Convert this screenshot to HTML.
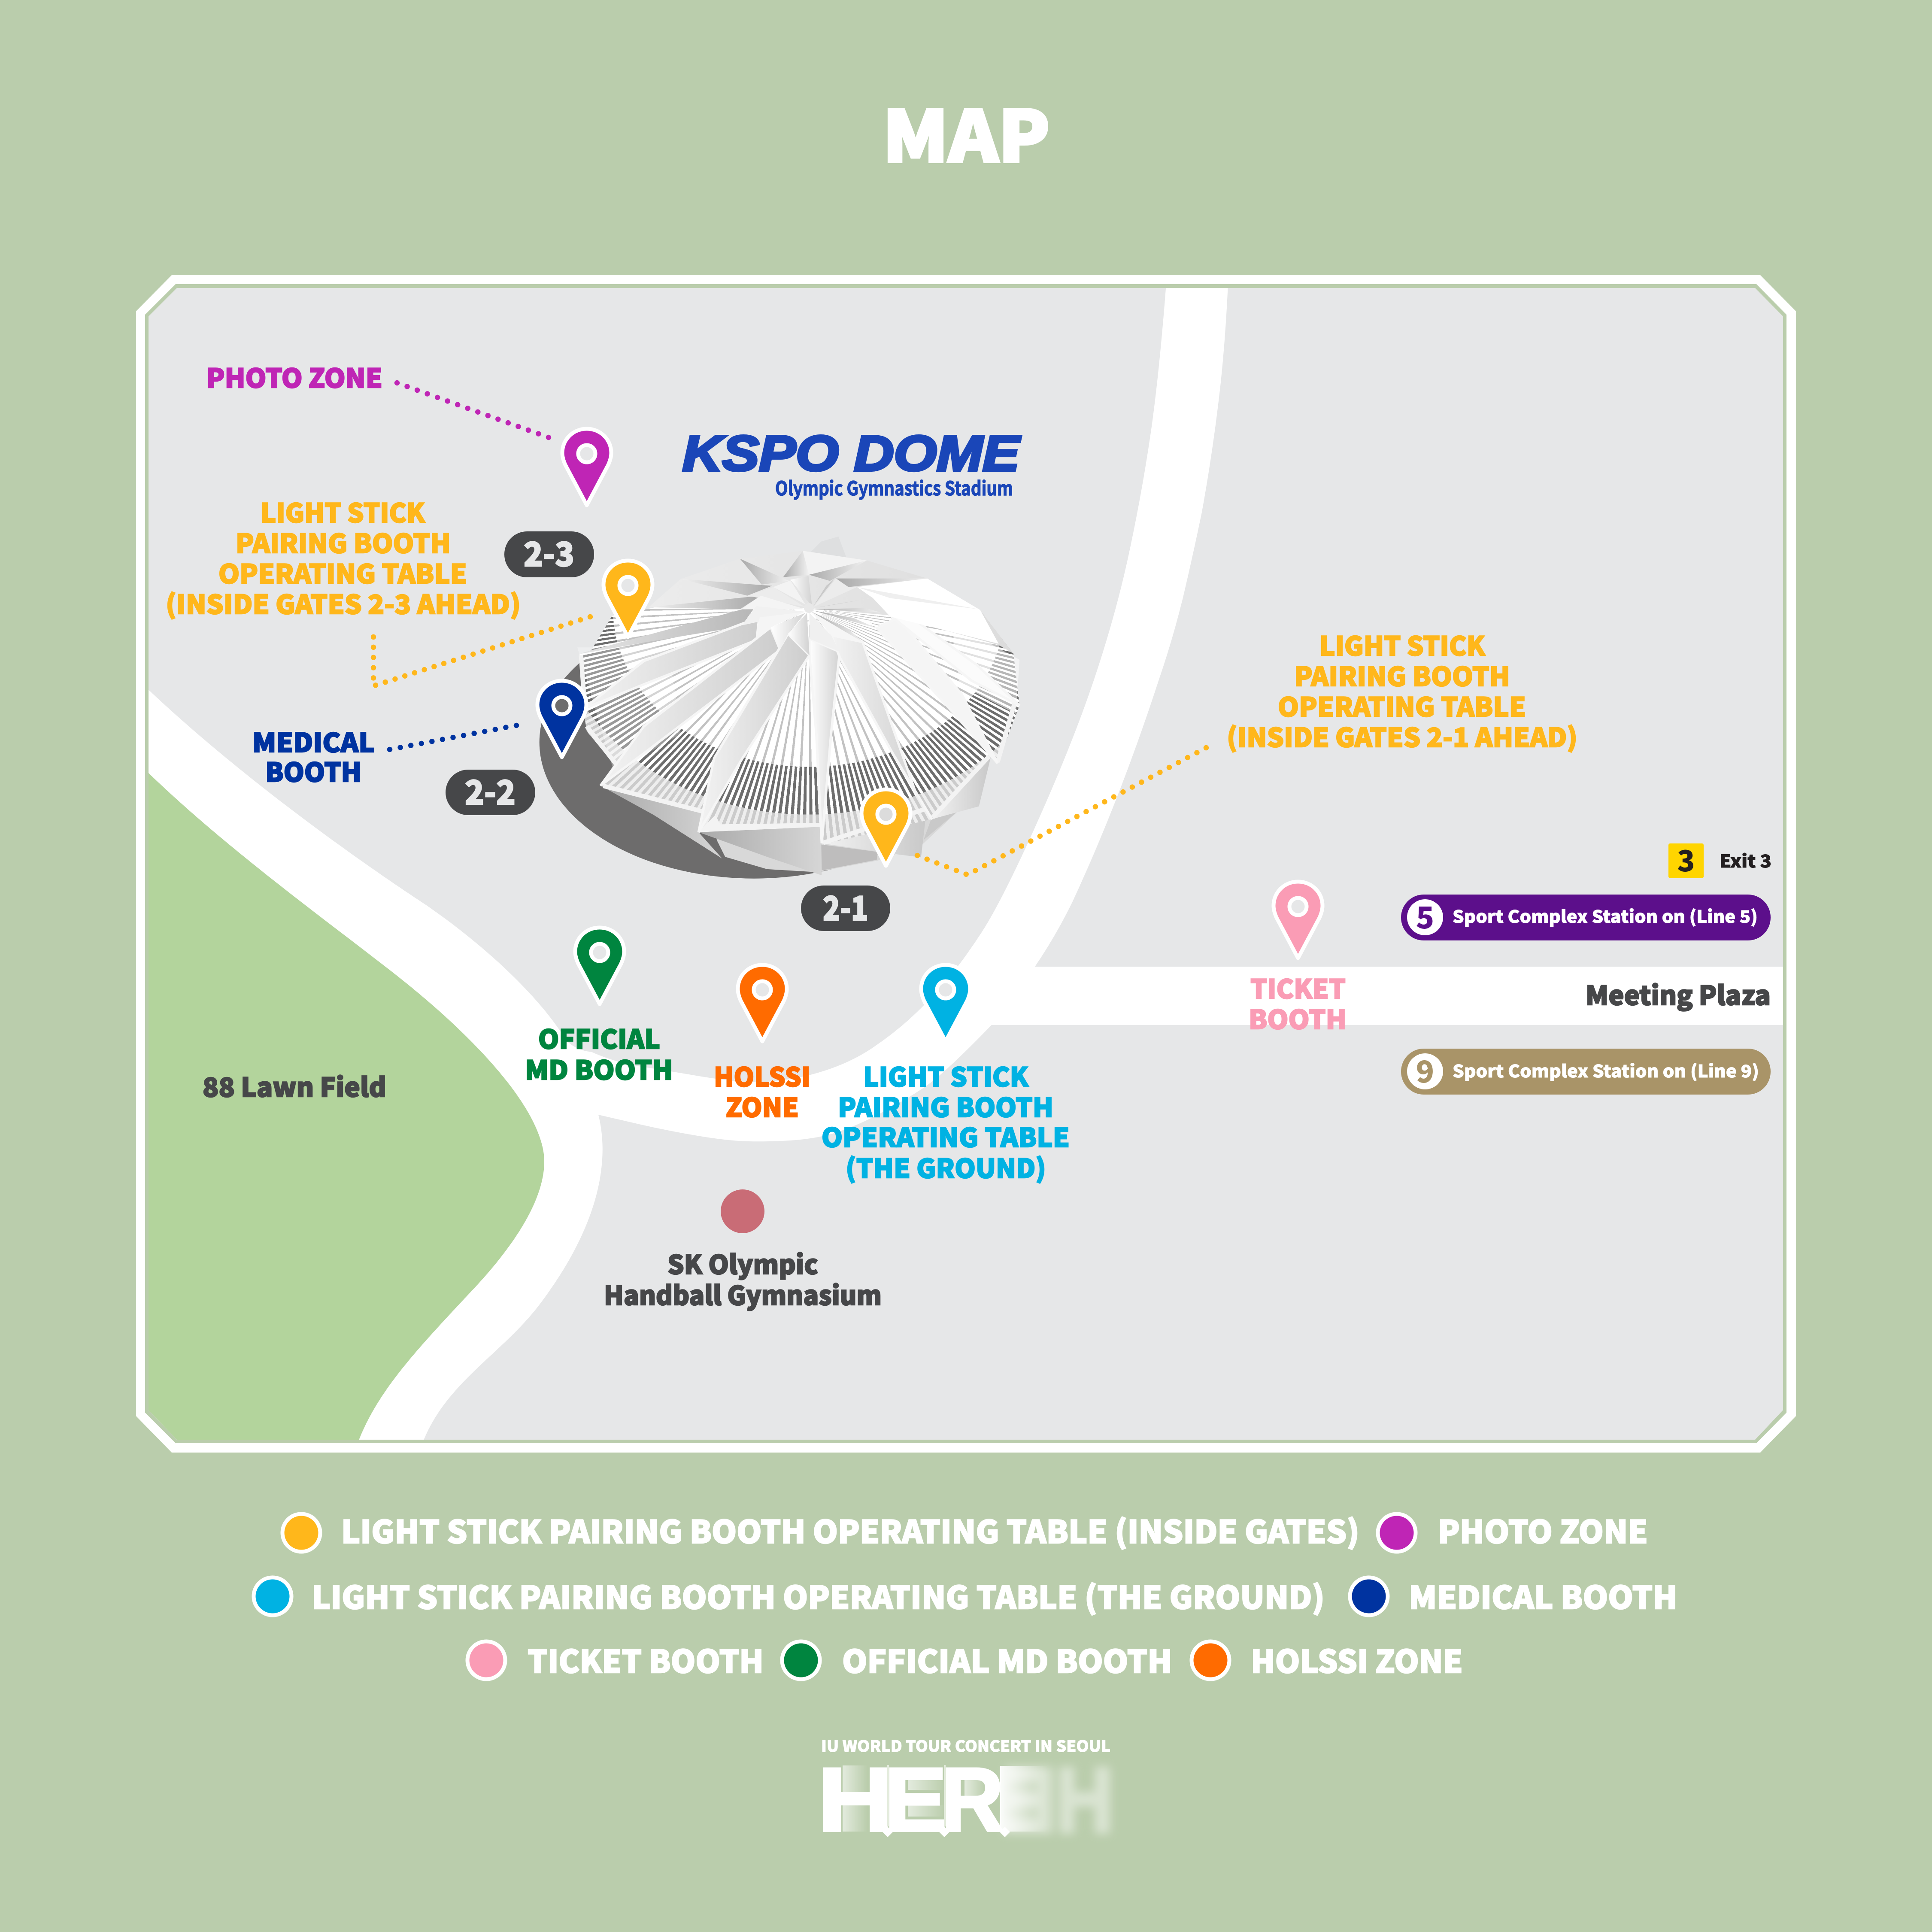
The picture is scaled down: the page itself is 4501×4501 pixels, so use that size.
<!DOCTYPE html>
<html><head><meta charset="utf-8"><title>MAP</title>
<style>
html,body{margin:0;padding:0;background:#bacdac}
body{position:relative;width:4501px;height:4501px;overflow:hidden}
svg{display:block;position:absolute;left:0;top:0}
text{font-family:"Noto Sans CJK KR","Liberation Sans",sans-serif;font-weight:900}
.dome{position:absolute;left:1500px;top:1250px;width:1800px;height:1400px;transform-origin:0 0;transform:scale(.574);
clip-path:polygon(-261px 477px,-246px 697px,-232px 790px,-106px 943px,-176px 1011px,250px 1125px,222px 1200px,718px 1178px,725px 1250px,1165px 1148px,1405px 895px,1435px 920px,1525px 685px,1500px 475px,1365px 298px,670px 150px,19px 293px,-129px 322px,-214px 462px)}
.dome .w{position:absolute;left:-400px;top:0;width:2100px;height:1400px;background:#fff}
.dome .r{position:absolute;left:-630px;top:-1010px;width:2600px;height:2600px;transform:scaleY(.81);transform-origin:center}
.r1{background:repeating-conic-gradient(#c2c2c2 0 .75deg,transparent .75deg 2.8deg);-webkit-mask-image:radial-gradient(circle at center,transparent 60px,#000 60px,#000 796px,transparent 796px);mask-image:radial-gradient(circle at center,transparent 60px,#000 60px,#000 796px,transparent 796px)}
.r2{background:repeating-conic-gradient(#6d6d6d 0 .72deg,transparent .72deg 1.4deg);-webkit-mask-image:radial-gradient(circle at center,transparent 796px,#000 796px,#000 1035px,transparent 1035px);mask-image:radial-gradient(circle at center,transparent 796px,#000 796px,#000 1035px,transparent 1035px)}
.r3{background:repeating-conic-gradient(#cbcbcb 0 .7deg,#eee .7deg 1.4deg);-webkit-mask-image:radial-gradient(circle at center,transparent 1035px,#000 1035px,#000 1300px,transparent 1300px);mask-image:radial-gradient(circle at center,transparent 1035px,#000 1035px,#000 1300px,transparent 1300px)}
</style></head>
<body>
<svg xmlns="http://www.w3.org/2000/svg" width="4501" height="4501" viewBox="0 0 4501 4501">
<defs>
<clipPath id="mapclip"><polygon points="412,671 4089,671 4154,737 4154,3285 4089,3354 412,3354 346,3285 346,737"/></clipPath>
<linearGradient id="sD" x1="0" y1="0" x2="1" y2="0"><stop offset="0" stop-color="#a9a9a9"/><stop offset="1" stop-color="#d6d6d6"/></linearGradient>
<linearGradient id="sE" x1="0" y1="0" x2="1" y2="0"><stop offset="0" stop-color="#f3f3f3"/><stop offset="1" stop-color="#c8c8c8"/></linearGradient>
</defs>
<rect width="4501" height="4501" fill="#bacdac"/>
<text x="2056" y="377" font-size="165" fill="#fff" textLength="390" lengthAdjust="spacingAndGlyphs" stroke="#fff" stroke-width="6">MAP</text>
<polygon points="400,641 4101,641 4184,725 4184,3299 4101,3384 400,3384 317,3299 317,725" fill="#fff"/>
<polygon points="409,662 4092,662 4162,733 4162,3291 4092,3362 409,3362 338,3291 338,733" fill="#bacdac"/>
<polygon points="412,671 4089,671 4154,737 4154,3285 4089,3354 412,3354 346,3285 346,737" fill="#e6e7e8"/>
<g clip-path="url(#mapclip)">
<path fill="#fff" d="M340 1601 L346 1607 C540 1790 790 1975 989 2106 C1109 2188 1250 2310 1320 2425 Q1345 2448 1377.5 2450.5 Q1435 2476 1497 2485.5 Q1559 2495 1616.5 2505 Q1674 2515 1722 2519.5 Q1770 2524 1827 2516 Q1884 2508 1937 2489 Q1990 2470 2033 2441 Q2076 2412 2114 2378.5 Q2152 2345 2195 2296 Q2238 2247 2286 2173.5 Q2334 2100 2417 1914.5 Q2500 1729 2550 1579.5 Q2600 1430 2630 1290 Q2660 1150 2680 1014.5 Q2700 879 2717 660 L2861 660 Q2855 790 2843 900 Q2826 1050 2800 1193 Q2780 1290 2757 1388 Q2732 1490 2700 1583 Q2610 1860 2499 2100 Q2460 2180 2411 2252 L4160 2252 V2388 H2310 Q2200 2502 2152 2534 Q2104 2566 2056 2591 Q2009 2617 1961 2634 Q1913 2652 1841 2657 Q1770 2661 1722 2658 Q1674 2655 1602 2642 Q1530 2629 1463 2613 L1394 2597 C1420 2700 1400 2850 1257 3039 C1170 3154 1040 3220 985 3360 L340 3360 Z"/>
<path fill="#b3d49c" d="M340 1795 C520 1970 740 2129 912 2263 C1110 2417 1268 2590 1268 2706 C1268 2800 1190 2910 1104 3002 C970 3145 880 3240 834 3360 L340 3360 Z"/>
</g>
<g transform="translate(1500 1250) scale(.574)">
<ellipse cx="447" cy="835" rx="871" ry="553" fill="#6d6c6c"/>
<polygon points="680,60 720,20 790,0 822,85 670,70" fill="#dedfe0"/>
<polygon points="295,1230 330,1300 500,1350 700,1362 950,1315 1130,1250 1280,1110 1100,1000 600,1100" fill="#d8d8d8"/>
<polygon points="-176,1011 250,1125 222,1200 318,1307 40,1130" fill="url(#sD)"/>
<polygon points="222,1200 718,1178 722,1375 500,1300" fill="url(#sD)"/>
<polygon points="720,1250 950,1280 945,1312 722,1355" fill="#bebdbd"/>
<polygon points="720,1245 880,1195 1148,1105 1125,1302 1030,1290" fill="url(#sE)"/>
<polygon points="1135,1232 1165,1150 1280,1110" fill="#c9c9c9"/>
<polygon points="1165,1148 1408,895 1360,1095" fill="url(#sE)"/>
</g>
</svg>

<div class="dome"><div class="w"></div><div class="r r1"></div><div class="r r2"></div><div class="r r3"></div></div>

<svg xmlns="http://www.w3.org/2000/svg" width="4501" height="4501" viewBox="0 0 4501 4501">
<defs>
<linearGradient id="gA" x1="0" y1="0" x2="1" y2="0"><stop offset="0" stop-color="#f0f0f0"/><stop offset="1" stop-color="#a8a8a8"/></linearGradient>
<linearGradient id="gB" x1="0" y1="0" x2="1" y2="0"><stop offset="0" stop-color="#a8a8a8"/><stop offset="1" stop-color="#f2f2f2"/></linearGradient>
<linearGradient id="gC" x1="0" y1="0" x2="1" y2="0"><stop offset="0" stop-color="#f3f3f3"/><stop offset="1" stop-color="#cdcdcd"/></linearGradient>
<linearGradient id="gE" x1="0" y1="0" x2="1" y2="0"><stop offset="0" stop-color="#ffffff"/><stop offset="1" stop-color="#d2d2d2"/></linearGradient>
<linearGradient id="gF" x1="0" y1="0" x2="1" y2="0"><stop offset="0" stop-color="#e6e6e6"/><stop offset="1" stop-color="#b6b6b6"/></linearGradient>
<linearGradient id="gR" x1="0" y1="0" x2="1" y2="0"><stop offset="0" stop-color="#ececec"/><stop offset="1" stop-color="#dcdcdc"/></linearGradient>
<linearGradient id="fadeW" x1="0" y1="0" x2="1" y2="0"><stop offset="0" stop-color="#fff" stop-opacity=".6"/><stop offset="1" stop-color="#fff" stop-opacity="0"/></linearGradient>
<linearGradient id="fadeS" x1="0" y1="0" x2="1" y2="0"><stop offset="0" stop-color="#fff" stop-opacity=".95"/><stop offset="1" stop-color="#fff" stop-opacity="0"/></linearGradient>
<filter id="blur" x="-20%" y="-20%" width="140%" height="140%"><feGaussianBlur stdDeviation="11"/></filter>
</defs>

<g transform="translate(1500 1250) scale(.574)">
<polygon points="1250,350 1525,500 1510,720 1280,600" fill="#fff" opacity=".5"/>
<polygon points="-270,450 100,450 150,800 -120,960" fill="#fff" opacity=".3"/>
<!-- outer frame strips -->
<g fill="none" stroke="#f3f3f3" stroke-width="18">
<polyline points="-255,482 -240,690 -20,590"/>
<polyline points="-232,770 -104,935"/>
<polyline points="-165,1012 248,1118"/>
<polyline points="728,1243 1145,1105"/>
<polyline points="1172,1140 1400,893"/>
<polyline points="1436,915 1505,675"/>
</g>
<polygon points="222,1200 718,1178 716,1162 310,1168 290,1130" fill="#f3f3f3"/>
<!-- beams -->
<g stroke="#f6f6f6" stroke-width="10" stroke-linejoin="miter">
<polygon points="-214,462 455,280 395,365 0,430 -261,477" fill="url(#gF)" stroke="none"/>
<polygon points="468,328 458,420 0,600 -246,700 0,505" fill="url(#gC)"/>
<polygon points="515,368 553,460 0,880 -176,1011 0,770" fill="url(#gC)"/>
<polygon points="585,395 672,482 400,900 222,1200 285,900" fill="url(#gC)"/>
<polygon points="672,415 795,468 760,800 722,1245 700,800 672,480" fill="url(#gE)"/>
<polygon points="760,400 888,428 1100,1030 1170,1148 1010,880 795,490" fill="url(#gC)"/>
<polygon points="945,370 1030,330 1290,640 1436,920 1260,720" fill="#f5f5f5"/>
<polygon points="1000,320 1060,310 1350,520 1525,685 1330,585" fill="#fbfbfb"/>
</g>
<!-- roof -->
<polygon points="19,287 150,172 390,90 645,58 905,97 1150,170 1365,298 1500,475 1440,440 1000,320 670,290 395,295" fill="url(#gR)"/>
<polygon points="865,205 1150,170 1365,298 1440,435 1000,325 930,250" fill="#fff"/>
<polygon points="865,205 1360,295 1000,250" fill="#efefef"/>
<polygon points="390,90 590,180 478,195" fill="url(#gB)"/>
<polygon points="150,172 520,200 420,240" fill="url(#gA)"/>
<polygon points="19,287 475,240 390,295" fill="url(#gA)"/>
<polygon points="565,165 645,58 670,155" fill="url(#gB)"/>
<polygon points="670,155 905,97 755,180" fill="url(#gB)"/>
<polygon points="780,170 1150,170 830,205" fill="url(#gB)"/>
<polygon points="645,58 905,97 670,155" fill="#f3f3f3"/>
<!-- hub wedges -->
<polygon points="595,175 668,160 683,285" fill="url(#gE)"/>
<polygon points="525,205 595,178 655,275" fill="#f3f3f3"/>
<polygon points="420,240 525,205 652,285" fill="#ececec"/>
<polygon points="475,240 395,295 655,295" fill="#f4f4f4"/>
<polygon points="455,282 400,360 655,305" fill="#f1f1f1"/>
<polygon points="470,328 655,305 515,368 458,420" fill="#f5f5f5"/>
<polygon points="515,368 655,310 585,395 553,460" fill="url(#gE)"/>
<polygon points="585,395 662,310 672,482" fill="url(#gE)"/>
<polygon points="672,310 672,415 795,468 760,400" fill="#f0f0f0"/>
<polygon points="680,305 760,400 888,428" fill="#f6f6f6"/>
<polygon points="680,305 888,428 830,375" fill="url(#gB)"/>
<polygon points="685,300 960,370 890,335 " fill="#fff"/>
<polygon points="685,300 945,372 850,330" fill="url(#gB)"/>
<polygon points="688,295 900,290 960,308" fill="url(#gB)"/>
<polygon points="690,290 930,248 840,265" fill="url(#gB)"/>
<polygon points="690,285 865,205 830,205 780,170" fill="#ececec"/>
<polygon points="688,282 775,170 740,200" fill="#c9c9c9"/>
<circle cx="670" cy="290" r="20" fill="#e8e8e8"/>
</g>

<!-- dotted connectors -->
<g fill="none" stroke-linecap="round" stroke-width="12.5">
<path d="M925 892 L1278 1019" stroke="#bf25b5" pathLength="15" stroke-dasharray="0 .9999"/>
<path d="M870 1484 L870 1598 L1375 1437" stroke="#ffb71b" pathLength="27" stroke-dasharray="0 .9999"/>
<path d="M908 1746 L1203 1690" stroke="#0033a0" pathLength="12" stroke-dasharray="0 .9999"/>
<path d="M2137 1993 L2254 2038 L2810 1742" stroke="#ffb71b" pathLength="31" stroke-dasharray="0 .9999"/>
</g>

<!-- badges -->
<rect x="1175" y="1238" width="209" height="107" rx="53" fill="#464749"/>
<rect x="1038" y="1793" width="209" height="106" rx="53" fill="#464749"/>
<rect x="1866" y="2063" width="208" height="106" rx="53" fill="#464749"/>
<g fill="#e6e7e8" font-size="78" stroke="#e6e7e8" stroke-width="2.5">
<text x="1220" y="1319" textLength="118" lengthAdjust="spacingAndGlyphs">2-3</text>
<text x="1083" y="1874" textLength="118" lengthAdjust="spacingAndGlyphs">2-2</text>
<text x="1917" y="2144" textLength="106" lengthAdjust="spacingAndGlyphs">2-1</text>
</g>

<!-- pins -->
<g stroke="#fff" stroke-width="9" stroke-linejoin="round">
<path transform="translate(1367 1057)" fill="#bf25b5" d="M0 120 L-50 26 C-54 17 -57 8 -57 -2 C-57 -33 -32 -58 0 -58 C32 -58 57 -33 57 -2 C57 8 54 17 50 26 Z"/>
<path transform="translate(1463 1364)" fill="#ffb71b" d="M0 120 L-50 26 C-54 17 -57 8 -57 -2 C-57 -33 -32 -58 0 -58 C32 -58 57 -33 57 -2 C57 8 54 17 50 26 Z"/>
<path transform="translate(1309 1644)" fill="#0033a0" d="M0 120 L-50 26 C-54 17 -57 8 -57 -2 C-57 -33 -32 -58 0 -58 C32 -58 57 -33 57 -2 C57 8 54 17 50 26 Z"/>
<path transform="translate(2064 1897)" fill="#ffb71b" d="M0 120 L-50 26 C-54 17 -57 8 -57 -2 C-57 -33 -32 -58 0 -58 C32 -58 57 -33 57 -2 C57 8 54 17 50 26 Z"/>
<path transform="translate(1397 2219)" fill="#00853f" d="M0 120 L-50 26 C-54 17 -57 8 -57 -2 C-57 -33 -32 -58 0 -58 C32 -58 57 -33 57 -2 C57 8 54 17 50 26 Z"/>
<path transform="translate(1776 2306)" fill="#ff6b00" d="M0 120 L-50 26 C-54 17 -57 8 -57 -2 C-57 -33 -32 -58 0 -58 C32 -58 57 -33 57 -2 C57 8 54 17 50 26 Z"/>
<path transform="translate(2203 2306)" fill="#00b2e3" d="M0 120 L-50 26 C-54 17 -57 8 -57 -2 C-57 -33 -32 -58 0 -58 C32 -58 57 -33 57 -2 C57 8 54 17 50 26 Z"/>
<path transform="translate(3024 2112)" fill="#fa9cb5" d="M0 120 L-50 26 C-54 17 -57 8 -57 -2 C-57 -33 -32 -58 0 -58 C32 -58 57 -33 57 -2 C57 8 54 17 50 26 Z"/>
</g>
<g stroke="#fff" stroke-width="9" fill="#e6e7e8">
<circle cx="1367" cy="1057" r="20"/>
<circle cx="1463" cy="1364" r="20"/>
<circle cx="1309" cy="1644" r="20" fill="#6d6c6c"/>
<circle cx="2064" cy="1897" r="20" fill="#dcdcdc"/>
<circle cx="1397" cy="2219" r="20"/>
<circle cx="1776" cy="2306" r="20"/>
<circle cx="2203" cy="2306" r="20"/>
<circle cx="3024" cy="2112" r="20"/>
</g>

<!-- KSPO -->
<text x="1590" y="1096" font-size="116" fill="#1a46b8" textLength="785" lengthAdjust="spacingAndGlyphs" stroke="#1a46b8" stroke-width="6" style="font-family:'Liberation Sans',sans-serif;font-weight:700;font-style:italic">KSPO DOME</text>
<text x="1806" y="1154" font-size="45" fill="#1a46b8" textLength="554" lengthAdjust="spacingAndGlyphs" stroke="#1a46b8" stroke-width="1.5" style="font-weight:700">Olympic Gymnastics Stadium</text>

<!-- labels -->
<g font-size="61" stroke-width="2.5">
<text x="481" y="903" fill="#bf25b5" stroke="#bf25b5" textLength="410" lengthAdjust="spacingAndGlyphs">PHOTO ZONE</text>
<g fill="#ffb71b" stroke="#ffb71b">
<text x="607" y="1217" textLength="383" lengthAdjust="spacingAndGlyphs">LIGHT STICK</text>
<text x="549" y="1288" textLength="501" lengthAdjust="spacingAndGlyphs">PAIRING BOOTH</text>
<text x="509" y="1359" textLength="579" lengthAdjust="spacingAndGlyphs">OPERATING TABLE</text>
<text x="386" y="1430" textLength="827" lengthAdjust="spacingAndGlyphs">(INSIDE GATES 2-3 AHEAD)</text>
<text x="3074" y="1527" textLength="386" lengthAdjust="spacingAndGlyphs">LIGHT STICK</text>
<text x="3015" y="1598" textLength="503" lengthAdjust="spacingAndGlyphs">PAIRING BOOTH</text>
<text x="2977" y="1669" textLength="578" lengthAdjust="spacingAndGlyphs">OPERATING TABLE</text>
<text x="2858" y="1740" textLength="817" lengthAdjust="spacingAndGlyphs">(INSIDE GATES 2-1 AHEAD)</text>
</g>
<g fill="#0033a0" stroke="#0033a0">
<text x="588" y="1752" textLength="285" lengthAdjust="spacingAndGlyphs">MEDICAL</text>
<text x="618" y="1821" textLength="224" lengthAdjust="spacingAndGlyphs">BOOTH</text>
</g>
<text x="472" y="2555" fill="#464749" stroke="#464749" textLength="428" lengthAdjust="spacingAndGlyphs">88 Lawn Field</text>
<g fill="#00853f" stroke="#00853f">
<text x="1254" y="2443" textLength="284" lengthAdjust="spacingAndGlyphs">OFFICIAL</text>
<text x="1223" y="2515" textLength="345" lengthAdjust="spacingAndGlyphs">MD BOOTH</text>
</g>
<g fill="#ff6b00" stroke="#ff6b00">
<text x="1663" y="2531" textLength="225" lengthAdjust="spacingAndGlyphs">HOLSSI</text>
<text x="1691" y="2602" textLength="170" lengthAdjust="spacingAndGlyphs">ZONE</text>
</g>
<g fill="#00b2e3" stroke="#00b2e3">
<text x="2011" y="2531" textLength="385" lengthAdjust="spacingAndGlyphs">LIGHT STICK</text>
<text x="1952" y="2602" textLength="502" lengthAdjust="spacingAndGlyphs">PAIRING BOOTH</text>
<text x="1914" y="2672" textLength="578" lengthAdjust="spacingAndGlyphs">OPERATING TABLE</text>
<text x="1970" y="2744" textLength="467" lengthAdjust="spacingAndGlyphs">(THE GROUND)</text>
</g>
<g fill="#fa9cb5" stroke="#fa9cb5">
<text x="2913" y="2326" textLength="222" lengthAdjust="spacingAndGlyphs">TICKET</text>
<text x="2909" y="2397" textLength="228" lengthAdjust="spacingAndGlyphs">BOOTH</text>
</g>
<g fill="#464749" stroke="#464749">
<text x="1555" y="2968" textLength="351" lengthAdjust="spacingAndGlyphs">SK Olympic</text>
<text x="1407" y="3040" textLength="647" lengthAdjust="spacingAndGlyphs">Handball Gymnasium</text>
<text x="3694" y="2341" textLength="431" lengthAdjust="spacingAndGlyphs">Meeting Plaza</text>
</g>
</g>
<circle cx="1730" cy="2822" r="51" fill="#c96c76"/>

<!-- subway -->
<rect x="3887" y="1965" width="82" height="81" rx="4" fill="#ffd500"/>
<text x="3928" y="2030" font-size="68" text-anchor="middle" fill="#231f20">3</text>
<text x="4006" y="2021" font-size="41" fill="#231f20" stroke="#231f20" stroke-width="1" textLength="121" lengthAdjust="spacingAndGlyphs">Exit 3</text>
<rect x="3264" y="2084" width="861" height="107" rx="53" fill="#5c0f8b"/>
<circle cx="3320" cy="2137" r="42" fill="#fff"/>
<text x="3320" y="2163" font-size="70" text-anchor="middle" fill="#5c0f8b">5</text>
<text x="3384" y="2150" font-size="40" fill="#fff" stroke="#fff" stroke-width="1" textLength="711" lengthAdjust="spacingAndGlyphs">Sport Complex Station on (Line 5)</text>
<rect x="3264" y="2443" width="861" height="107" rx="53" fill="#a99468"/>
<circle cx="3320" cy="2496" r="42" fill="#fff"/>
<text x="3320" y="2522" font-size="70" text-anchor="middle" fill="#a99468">9</text>
<text x="3384" y="2510" font-size="40" fill="#fff" stroke="#fff" stroke-width="1" textLength="714" lengthAdjust="spacingAndGlyphs">Sport Complex Station on (Line 9)</text>

<!-- legend -->
<g stroke="#fff" stroke-width="9">
<circle cx="702" cy="3571" r="44" fill="#ffb71b"/>
<circle cx="3254" cy="3571" r="44" fill="#bf25b5"/>
<circle cx="635" cy="3719" r="44" fill="#00b2e3"/>
<circle cx="3189" cy="3719" r="44" fill="#0033a0"/>
<circle cx="1133" cy="3868" r="44" fill="#fa9cb5"/>
<circle cx="1866" cy="3868" r="44" fill="#00853f"/>
<circle cx="2820" cy="3868" r="44" fill="#ff6b00"/>
</g>
<g fill="#fff" font-size="73" stroke="#fff" stroke-width="2.5">
<text x="795" y="3595" textLength="2372" lengthAdjust="spacingAndGlyphs">LIGHT STICK PAIRING BOOTH OPERATING TABLE (INSIDE GATES)</text>
<text x="3350" y="3595" textLength="489" lengthAdjust="spacingAndGlyphs">PHOTO ZONE</text>
<text x="726" y="3748" textLength="2360" lengthAdjust="spacingAndGlyphs">LIGHT STICK PAIRING BOOTH OPERATING TABLE (THE GROUND)</text>
<text x="3282" y="3748" textLength="626" lengthAdjust="spacingAndGlyphs">MEDICAL BOOTH</text>
<text x="1229" y="3897" textLength="550" lengthAdjust="spacingAndGlyphs">TICKET BOOTH</text>
<text x="1962" y="3897" textLength="769" lengthAdjust="spacingAndGlyphs">OFFICIAL MD BOOTH</text>
<text x="2914" y="3897" textLength="494" lengthAdjust="spacingAndGlyphs">HOLSSI ZONE</text>
</g>

<!-- logo -->
<text x="1913" y="4081" font-size="36" fill="#fff" stroke="#fff" stroke-width="1" textLength="674" lengthAdjust="spacingAndGlyphs">IU WORLD TOUR CONCERT IN SEOUL</text>
<g filter="url(#blur)" opacity=".45">
<text x="2336" y="4267" font-size="212" fill="#fff" textLength="258" lengthAdjust="spacingAndGlyphs" stroke="#fff" stroke-width="10" style="font-family:'Liberation Sans',sans-serif;font-weight:700">ƎH</text>
</g>
<rect x="2330" y="4114" width="110" height="153" fill="url(#fadeS)"/>
<rect x="1963" y="4113" width="58" height="154" fill="url(#fadeW)"/>
<rect x="2115" y="4145" width="88" height="25" fill="url(#fadeW)"/>
<rect x="2115" y="4205" width="88" height="27" fill="url(#fadeW)"/>
<rect x="2247" y="4147" width="50" height="45" fill="url(#fadeW)"/>
<g font-size="210" fill="#fff" stroke="#fff" stroke-width="6">
<text x="1905" y="4265" textLength="176" lengthAdjust="spacingAndGlyphs" style="font-family:'Liberation Sans',sans-serif;font-weight:700">H</text>
<text x="2060" y="4265" textLength="146" lengthAdjust="spacingAndGlyphs" style="font-family:'Liberation Sans',sans-serif;font-weight:700">E</text>
<text x="2193" y="4265" textLength="145" lengthAdjust="spacingAndGlyphs" style="font-family:'Liberation Sans',sans-serif;font-weight:700">R</text>
</g>
<rect x="2067" y="4112" width="4" height="143" fill="#e4ecdd"/>
<rect x="2199" y="4112" width="4" height="143" fill="#e4ecdd"/>
<g fill="#fff">
<polygon points="2068,4256 2080,4268 2068,4280 2056,4268"/>
<polygon points="2200,4256 2212,4268 2200,4280 2188,4268"/>
<polygon points="2341,4256 2353,4268 2341,4280 2329,4268"/>
</g>
</svg>
</body></html>
